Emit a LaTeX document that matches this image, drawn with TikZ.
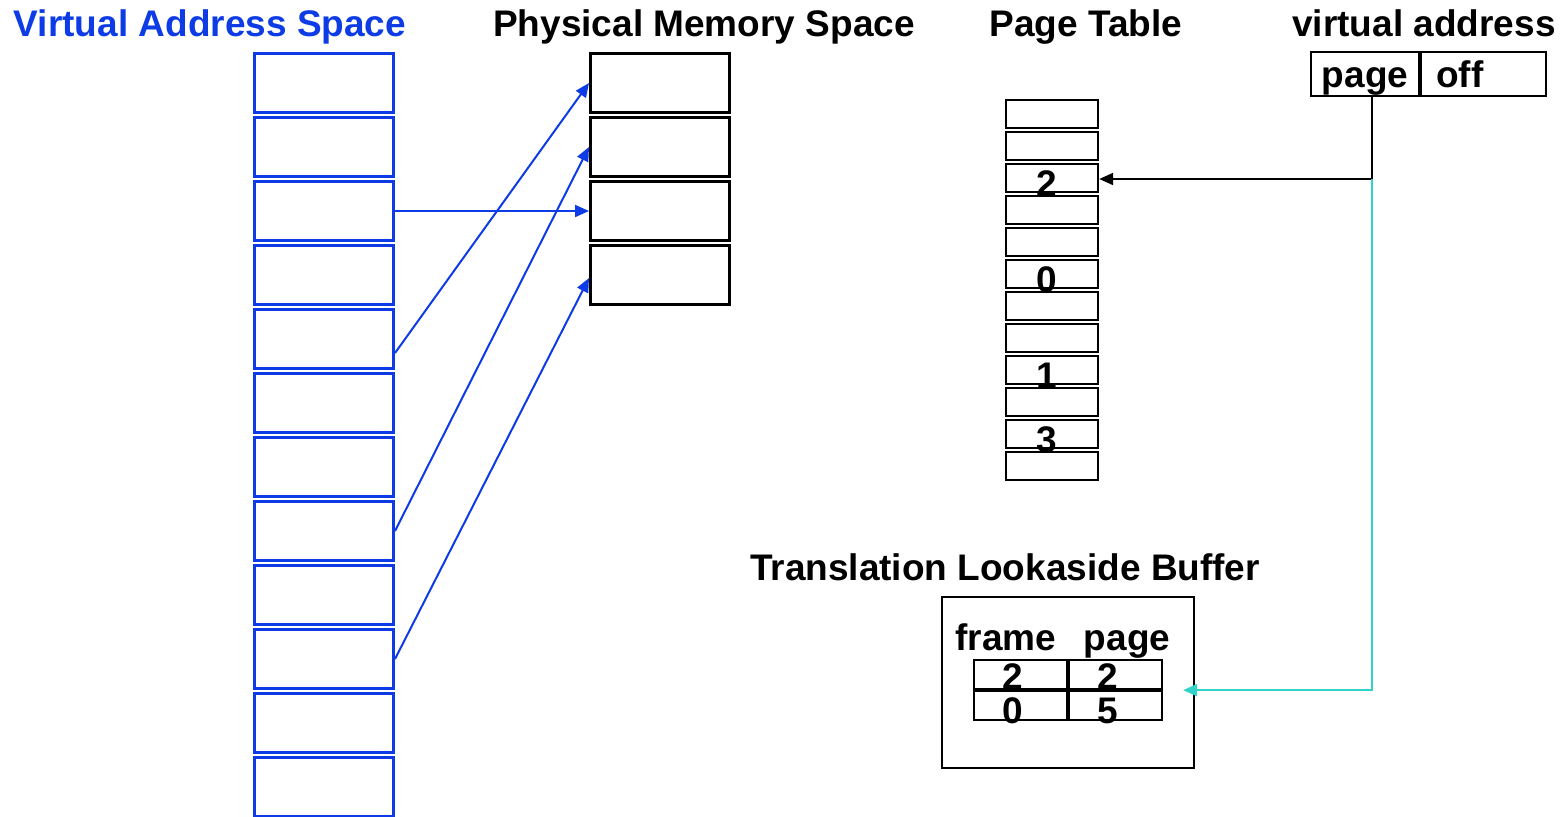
\documentclass[tikz,border=0pt]{standalone}
\usepackage{fontspec}
\setmainfont{Liberation Sans}
\usetikzlibrary{arrows.meta,positioning}

\definecolor{vblue}{RGB}{13,60,230}
\definecolor{tlbcyan}{RGB}{51,210,200}

\tikzset{
  every node/.style={font=\fontsize{18.5}{22}\selectfont\bfseries},
  title/.style={anchor=base, inner sep=0pt},
  vpage/.style={draw=vblue, line width=1.4pt, minimum width=69.6pt, minimum height=29.6pt, inner sep=0pt},
  pframe/.style={draw, line width=1.4pt, minimum width=69.6pt, minimum height=29.6pt, inner sep=0pt},
  ptrow/.style={draw, line width=1.2pt, minimum width=46pt, minimum height=14pt, inner sep=0pt},
  tlbcell/.style={draw, line width=1.1pt, minimum width=46.5pt, minimum height=14.5pt, inner sep=0pt},
  vabox/.style={draw, line width=1.1pt, minimum height=22pt, inner sep=0pt, text height=15pt, text depth=2pt},
  digit/.style={inner sep=0pt},
  map/.style={-{Triangle[length=7pt,width=6pt]}, vblue, line width=1pt},
  lookup/.style={-{Triangle[length=7pt,width=6pt]}, line width=1pt},
  hit/.style={-{Triangle[length=7pt,width=6pt]}, tlbcyan, line width=1pt}
}

\begin{document}
\begin{tikzpicture}[x=0.5pt, y=-0.5pt]
    \useasboundingbox (0,0) rectangle (1562,816);
    \clip (0,0) rectangle (1562,816);

    \node[title, text=vblue] (vtitle) at (210,36) {Virtual Address Space};
    \node[title] (ptitle) at (704,36) {Physical Memory Space};
    \node[title] (tabtitle) at (1086,36) {Page Table};
    \node[title] (vatitle) at (1424,36) {virtual address};

    \foreach \i in {1,...,12}
      \node[vpage] (vp\i) at (324, {83+64*(\i-1)}) {};
    \foreach \i in {1,...,4}
      \node[pframe] (pf\i) at (660, {83+64*(\i-1)}) {};

    \draw[map] (vp3.east) -- (pf3.west);
    \draw[map] ([yshift=-7pt]vp5.east) -- (pf1.west);
    \draw[map] (vp8.east) -- (pf2.west);
    \draw[map] (vp10.east) -- ([yshift=-1.5pt]pf4.west);

    \foreach \i in {1,...,12}
      \node[ptrow] (pt\i) at (1052, {114+32*(\i-1)}) {};
    \foreach \r/\v in {3/2, 6/0, 9/1, 11/3}
      \node[digit] (pv\r) at ([xshift=-2.5pt, yshift=-2.75pt]pt\r.center) {\v};

    \node[vabox, minimum width=54pt] (vapage) at (1365,74) {page};
    \node[vabox, right=0pt of vapage, text width=47.5pt, inner xsep=7.5pt, align=left] (vaoff) {off};

    \node[title] (tlbtitle) at (1005,580) {Translation Lookaside Buffer};
    \node[draw, line width=1.1pt, minimum width=126pt, minimum height=85.5pt] (tlb) at (1068,682.5) {};
    \node[title] (hframe) at (1006,650) {frame};
    \node[title] (hpage) at (1127,650) {page};
    \node[tlbcell] (c11) at (1020.5,674.5) {};
    \node[tlbcell] (c12) at (1115.5,674.5) {};
    \node[tlbcell] (c21) at (1020.5,705.5) {};
    \node[tlbcell] (c22) at (1115.5,705.5) {};
    \foreach \c/\v in {11/2, 12/2}
      \node[digit] (cv\c) at ([xshift=-4pt, yshift=-1pt]c\c.center) {\v};
    \foreach \c/\v in {21/0, 22/5}
      \node[digit] (cv\c) at ([xshift=-4pt, yshift=-2.5pt]c\c.center) {\v};

    \coordinate (split) at (1372,179);
    \coordinate (tlbin) at ([xshift=10pt]c12.south east);
    \draw[line width=1pt] (vapage.south -| split) -- (split);
    \draw[lookup] (split) -- (split -| pt3.east);
    \draw[hit] (split) |- (tlbin);
\end{tikzpicture}
\end{document}
